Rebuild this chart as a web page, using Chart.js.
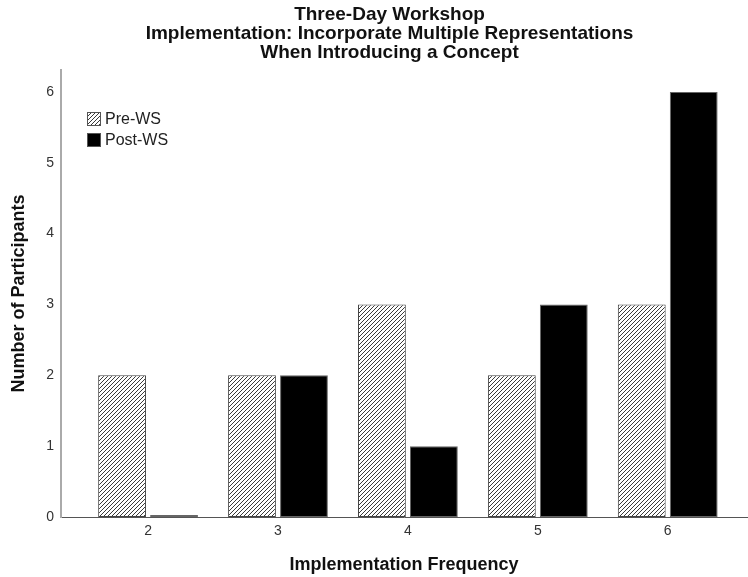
<!DOCTYPE html>
<html>
<head>
<meta charset="utf-8">
<script src="https://cdn.jsdelivr.net/npm/chart.js@4/dist/chart.umd.min.js"></script>
<style>
    html, body { margin: 0; padding: 0; background: #fff; }
    #wrap { width: 748px; height: 577px; }
</style>
</head>
<body>
<div id="wrap"><canvas id="workshopChart" width="748" height="577"></canvas></div>
<script>
const categories = [2, 3, 4, 5, 6];
const preWS = [2, 2, 3, 2, 3];
const postWS = [0, 2, 1, 3, 6];
const yTicks = [0, 1, 2, 3, 4, 5, 6];
const seriesNames = ['Pre-WS', 'Post-WS'];
const titleLines = ['Three-Day Workshop', 'Implementation: Incorporate Multiple Representations', 'When Introducing a Concept'];

// diagonal hatch for the Pre-WS bars
function makeHatch() {
    const tile = document.createElement('canvas');
    tile.width = 4;
    tile.height = 4;
    const c = tile.getContext('2d');
    c.fillStyle = '#fff';
    c.fillRect(0, 0, 4, 4);
    c.strokeStyle = '#3a3a3a';
    c.lineWidth = 1;
    c.beginPath();
    c.moveTo(-1, 5); c.lineTo(5, -1);
    c.moveTo(-1, 1); c.lineTo(1, -1);
    c.moveTo(3, 5); c.lineTo(5, 3);
    c.stroke();
    return document.getElementById('workshopChart').getContext('2d').createPattern(tile, 'repeat');
}
const hatch = makeHatch();

// legend sits inside the plot, top left
const insideLegend = {
    id: 'insideLegend',
    afterDraw(chart) {
        const ctx = chart.ctx;
        const area = chart.chartArea;
        const x = area.left + 26;
        let y = area.top + 42;
        ctx.save();
        ctx.font = '16px "Liberation Sans", Arial, sans-serif';
        ctx.textBaseline = 'middle';
        chart.data.datasets.forEach(ds => {
            ctx.fillStyle = ds.backgroundColor;
            ctx.fillRect(x, y, 14, 14);
            ctx.strokeStyle = '#555';
            ctx.lineWidth = 1;
            ctx.strokeRect(x + 0.5, y + 0.5, 13, 13);
            ctx.fillStyle = '#222';
            ctx.fillText(ds.label, x + 18, y + 8);
            y += 21;
        });
        ctx.restore();
    }
};

// title is centred a little right of the canvas middle
const shiftTitle = {
    id: 'shiftTitle',
    afterLayout(chart) {
        if (chart.titleBlock) chart.titleBlock.left += 32;
    }
};

const ctx = document.getElementById('workshopChart').getContext('2d');
new Chart(ctx, {
    type: 'bar',
    data: {
        datasets: [{
            label: seriesNames[0],
            data: categories.map((c, i) => ({ x: c, y: preWS[i] })),
            backgroundColor: hatch,
            borderColor: '#444',
            borderWidth: 1,
            borderSkipped: false
        }, {
            label: seriesNames[1],
            data: categories.map((c, i) => ({ x: c, y: postWS[i] })),
            backgroundColor: '#000',
            borderColor: '#666',
            borderWidth: 1,
            borderSkipped: false,
            minBarLength: 2
        }]
    },
    plugins: [insideLegend, shiftTitle],
    options: {
        responsive: false,
        animation: false,
        layout: { padding: { left: 0, right: 1, top: 0, bottom: 0 } },
        categoryPercentage: 0.8,
        barPercentage: 0.92,
        plugins: {
            legend: { display: false },
            tooltip: { enabled: false },
            title: {
                display: true,
                text: titleLines,
                color: '#111',
                font: { family: '"Liberation Sans", Arial, sans-serif', size: 19, weight: 'bold', lineHeight: 1.0 },
                padding: { top: 5, bottom: 8 }
            }
        },
        scales: {
            x: {
                type: 'linear',
                offset: false,
                min: 1.33,
                max: 6.61,
                grid: { display: false, drawTicks: false, offset: false },
                border: { display: true, color: '#555', width: 1 },
                afterBuildTicks: axis => { axis.ticks = categories.map(v => ({ value: v })); },
                afterFit: axis => { axis.height = 60; },
                ticks: {
                    padding: 6,
                    color: '#333',
                    font: { family: '"Liberation Sans", Arial, sans-serif', size: 14 }
                },
                title: {
                    display: true,
                    text: 'Implementation Frequency',
                    color: '#111',
                    font: { family: '"Liberation Sans", Arial, sans-serif', size: 18, weight: 'bold' },
                    padding: { top: 0, bottom: 1 }
                }
            },
            y: {
                min: 0,
                max: 6.31,
                grid: { display: false, drawTicks: false },
                border: { display: true, color: '#aaa', width: 2 },
                afterBuildTicks: axis => { axis.ticks = yTicks.map(v => ({ value: v })); },
                afterFit: axis => { axis.width = 61; },
                ticks: {
                    padding: 7,
                    color: '#333',
                    font: { family: '"Liberation Sans", Arial, sans-serif', size: 14 }
                },
                title: {
                    display: true,
                    text: 'Number of Participants',
                    color: '#111',
                    font: { family: '"Liberation Sans", Arial, sans-serif', size: 18, weight: 'bold' },
                    padding: { top: 8, bottom: 0 }
                }
            }
        }
    }
});
</script>
</body>
</html>
